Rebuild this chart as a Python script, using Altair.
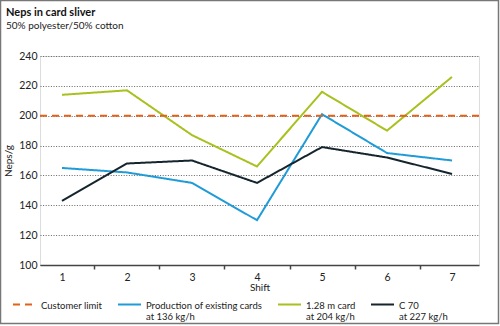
import altair as alt
import pandas as pd

shifts = [1, 2, 3, 4, 5, 6, 7]
existing = [165, 162, 155, 130, 201, 175, 170]
card128 = [214, 217, 187, 166, 216, 190, 226]
c70 = [143, 168, 170, 155, 179, 172, 161]
customer_limit = 200

NBSP = "\u00a0"
series_names = [
    "Customer limit| ",
    "Production of existing cards|at 136 kg/h",
    "1.28 m card" + NBSP * 10 + "|at 204 kg/h" + NBSP * 8,
    "C 70|at 227 kg/h",
]
colors = ["#E2621B", "#1F9BD8", "#A9C01E", "#15252E"]
dashes = [[7, 5], [1, 0], [1, 0], [1, 0]]

rows = []
for name, vals in zip(series_names[1:], [existing, card128, c70]):
    for s, v in zip(shifts, vals):
        rows.append({"shift": s, "value": v, "series": name})
lines_df = pd.DataFrame(rows)
limit_df = pd.DataFrame({"value": [customer_limit], "series": [series_names[0]]})

FONT = "Lato"

color_scale = alt.Scale(domain=series_names, range=colors)
dash_scale = alt.Scale(domain=series_names, range=dashes)

legend = alt.Legend(
    title=None,
    orient="none",
    legendX=-28,
    legendY=237,
    padding=0,
    direction="horizontal",
    columns=4,
    columnPadding=11,
    symbolType="M-1,-0.1L1,-0.1",
    symbolSize=529,
    symbolStrokeWidth=2,
    labelOffset=4,
    labelFont=FONT,
    labelFontSize=9.5,
    labelColor="#222",
    labelBaseline="middle",
    labelExpr="split(datum.label, '|')",
    labelLimit=300,
)

x_axis = alt.Axis(
    values=[1, 1.5, 2, 2.5, 3, 3.5, 4, 4.5, 5, 5.5, 6, 6.5, 7],
    labelExpr="datum.value % 1 == 0 ? format(datum.value, 'd') : ''",
    tickOpacity={"condition": {"test": "datum.value % 1 == 0", "value": 0}, "value": 1},
    tickSize=4,
    tickWidth=1.5,
    tickColor="#444",
    domainColor="#444",
    domainWidth=1.5,
    labelOverlap=False,
    labelFlush=False,
    grid=False,
    title="Shift",
    titleFont=FONT,
    titleFontSize=10,
    titleFontWeight="normal",
    titleColor="#222",
    titlePadding=0,
    labelFont=FONT,
    labelFontSize=10.5,
    labelColor="#222",
    labelPadding=3,
)

y_axis = alt.Axis(
    values=[100, 120, 140, 160, 180, 200, 220, 240],
    format="d",
    labelOverlap=False,
    domain=False,
    ticks=False,
    grid=True,
    gridDash=[1, 1.6],
    gridColor="#555",
    gridWidth=0.9,
    title="Neps/g",
    titleFont=FONT,
    titleFontSize=10,
    titleFontWeight="normal",
    titleColor="#222",
    titlePadding=5,
    labelFont=FONT,
    labelFontSize=10.5,
    labelColor="#222",
    labelPadding=3,
)

x_scale = alt.Scale(domain=[0.662, 7.415], nice=False, zero=False)
y_scale = alt.Scale(domain=[100, 240], nice=False, zero=False)

line_layer = alt.Chart(lines_df).mark_line(strokeWidth=2).encode(
    x=alt.X("shift:Q", scale=x_scale, axis=x_axis),
    y=alt.Y("value:Q", scale=y_scale, axis=y_axis),
    color=alt.Color("series:N", scale=color_scale, legend=legend, sort=series_names),
    strokeDash=alt.StrokeDash("series:N", scale=dash_scale, legend=legend, sort=series_names),
)

limit_layer = alt.Chart(limit_df).mark_rule(strokeWidth=2).encode(
    y=alt.Y("value:Q", scale=y_scale, axis=y_axis),
    color=alt.Color("series:N", scale=color_scale, legend=legend, sort=series_names),
    strokeDash=alt.StrokeDash("series:N", scale=dash_scale, legend=legend, sort=series_names),
)

frame = alt.Chart(limit_df).mark_rect(fill=None, stroke="#777", strokeWidth=1.5).encode(
    x=alt.value(-39.5), x2=alt.value(458.5), y=alt.value(-55.5), y2=alt.value(267.5)
)

chart = alt.layer(line_layer, limit_layer, frame).properties(
    width=439,
    height=209,
    autosize=alt.AutoSizeParams(type="none"),
    padding={"left": 40, "top": 56, "right": 21, "bottom": 61},
    title=alt.TitleParams(
        text="Neps in card sliver",
        subtitle="50% polyester/50% cotton",
        anchor="start",
        frame="group",
        dx=-34,
        offset=-31,
        font=FONT,
        fontSize=11,
        fontWeight="bold",
        color="#111",
        subtitleFont=FONT,
        subtitleFontSize=10,
        subtitleColor="#222",
        subtitlePadding=3,
    ),
).configure_view(stroke=None).configure(background="white")

chart.save("out.html", embed_options={"renderer": "svg", "actions": False})
